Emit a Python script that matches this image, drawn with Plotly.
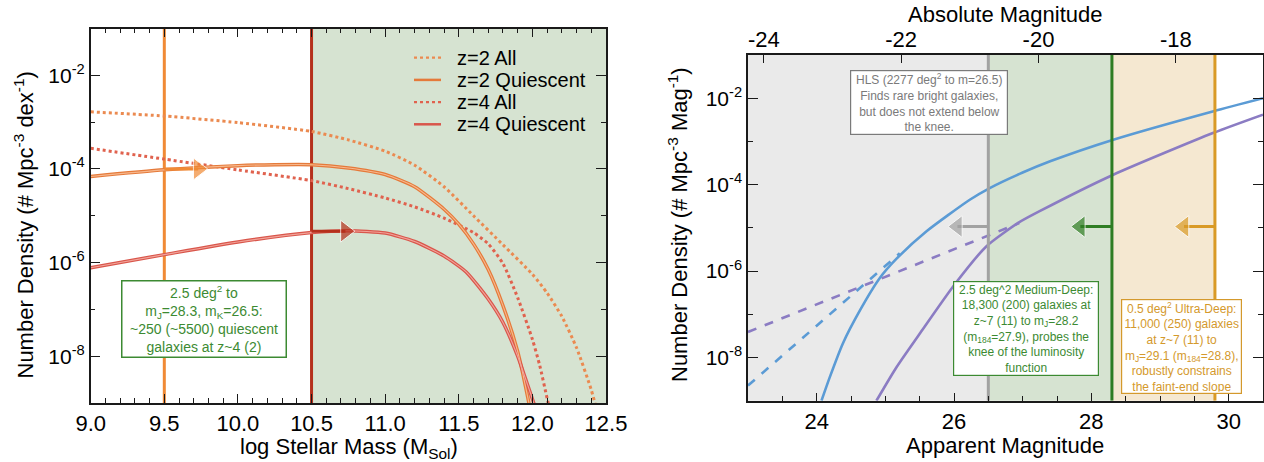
import numpy as np
import plotly.graph_objects as go

FONT = "Liberation Sans, Arial, Helvetica, sans-serif"
W, H = 1264, 462

# ---------------- Left panel data: stellar mass functions (log10 phi) ----------------
mass_z2_all = [9.0, 9.5, 10.0, 10.5, 10.75, 11.0, 11.2, 11.4, 11.6, 11.8, 12.0, 12.1, 12.2, 12.3, 12.4, 12.45]
logphi_z2_all = [-2.78, -2.87, -3.01, -3.20, -3.38, -3.62, -3.92, -4.38, -5.00, -5.62, -6.25, -6.65, -7.15, -7.82, -8.72, -9.3]

mass_z2_q = [9.0, 9.5, 10.0, 10.25, 10.5, 10.75, 11.0, 11.2, 11.4, 11.5, 11.6, 11.7, 11.8, 11.9, 11.97, 12.0]
logphi_z2_q = [-4.16, -4.02, -3.93, -3.91, -3.91, -3.98, -4.12, -4.38, -4.86, -5.18, -5.60, -6.15, -6.92, -7.90, -8.90, -9.4]

mass_z4_all = [9.0, 9.5, 10.0, 10.5, 10.75, 11.0, 11.2, 11.4, 11.6, 11.7, 11.8, 11.9, 12.0, 12.05, 12.1, 12.13]
logphi_z4_all = [-3.56, -3.79, -4.02, -4.25, -4.42, -4.62, -4.81, -5.05, -5.36, -5.60, -6.02, -6.75, -7.64, -8.2, -8.9, -9.3]

mass_z4_q = [9.0, 9.5, 10.0, 10.5, 10.75, 11.0, 11.2, 11.4, 11.55, 11.7, 11.8, 11.9, 11.95, 12.02, 12.05]
logphi_z4_q = [-6.11, -5.83, -5.56, -5.36, -5.32, -5.37, -5.55, -5.86, -6.20, -6.78, -7.28, -8.00, -8.45, -9.10, -9.4]

mass_limits = [9.5, 10.5]            # orange (z=2) and red (z=4) mass limits
mass_arrow_head = [9.73, 10.73]      # arrow head centres
mass_arrow_logphi = [-4.0, -5.33]
mass_range = [9.0, 12.5]
mass_ticks = [9.0, 9.5, 10.0, 10.5, 11.0, 11.5, 12.0, 12.5]

# ---------------- Right panel data: UV luminosity functions (log10 phi) ----------------
mag_blue = [24.07, 24.19, 24.38, 24.63, 24.92, 25.16, 25.6, 26.23, 26.52, 27.0, 27.4, 28.32, 29.78, 30.5]
logphi_blue = [-9.0, -8.46, -7.68, -6.91, -6.16, -5.72, -5.08, -4.35, -4.08, -3.72, -3.46, -2.96, -2.30, -2.0]

mag_purple = [24.87, 25.16, 25.5, 25.99, 26.47, 26.94, 27.24, 28.32, 29.78, 30.5]
logphi_purple = [-9.0, -8.23, -7.45, -6.35, -5.43, -4.88, -4.62, -3.77, -2.80, -2.38]

mag_blue_dash = [23.0, 25.21]
logphi_blue_dash = [-8.65, -5.59]
mag_purple_dash = [23.0, 26.95]
logphi_purple_dash = [-7.41, -4.89]

mag_limits = [26.5, 28.3, 29.8]          # HLS, Medium-Deep, Ultra-Deep
mag_arrow_head = [26.05, 27.84, 29.35]
mag_arrow_logphi = -4.97
mag_range = [23.0, 30.5]
mag_ticks = [24, 26, 28, 30]
abs_mag_ticks = [-24, -22, -20, -18]
distance_modulus = 47.23

logphi_ticks = [-8, -6, -4, -2]
logphi_minor = [-7, -5, -3]
logphi_range = [-9, -1]

# legend (left panel)
legend_labels = ["z=2 All", "z=2 Quiescent", "z=4 All", "z=4 Quiescent"]

# ---------------- colours ----------------
C_Z2_ALL = "#eb8a50"
C_Z4_ALL = "#e0624e"
C_Z2_Q = "#e57a3a"
C_Z2_Q_IN = "#f7b88e"
C_Z4_Q = "#d9564b"
C_Z4_Q_IN = "#f2a49a"
C_LIM1 = "#f08a35"
C_LIM2 = "#b5301c"
C_GREEN_FILL = "#d6e3d1"
C_GRAY_FILL = "#eaeaea"
C_TAN_FILL = "#f5e8d1"
C_BLUE = "#5b9bd5"
C_PURPLE = "#8b7cc3"
C_GRAY = "#a2a2a2"
C_GREEN = "#2f7d23"
C_ORANGE = "#d99a26"
C_GREEN_TXT = "#3c8a32"
C_ORANGE_TXT = "#d4992c"
C_GRAY_TXT = "#7a7a7a"

legend_colors = [C_Z2_ALL, C_Z2_Q, C_Z4_ALL, C_Z4_Q]
legend_dash = ["dot", "solid", "dot", "solid"]


def p(v):
    return [10 ** x for x in v]


fig = go.Figure()

# ---- left panel shading ----
fig.add_shape(type="rect", xref="x", yref="y domain", x0=mass_limits[1], x1=mass_range[1], y0=0, y1=1,
              fillcolor=C_GREEN_FILL, line_width=0, layer="below")

# ---- right panel shading ----
region_edges = [mag_range[0]] + mag_limits
region_cols = [C_GRAY_FILL, C_GREEN_FILL, C_TAN_FILL]
for i in range(3):
    fig.add_shape(type="rect", xref="x2", yref="y2 domain", x0=region_edges[i], x1=region_edges[i + 1],
                  y0=0, y1=1, fillcolor=region_cols[i], line_width=0, layer="below")

# ---- left panel vertical limits ----
for v, c in zip(mass_limits, [C_LIM1, C_LIM2]):
    fig.add_trace(go.Scatter(x=[v, v], y=p(logphi_range), mode="lines", line=dict(color=c, width=3),
                             showlegend=False, hoverinfo="skip", xaxis="x", yaxis="y"))

SPL = dict(shape="spline", smoothing=0.6)
# ---- left panel curves ----
fig.add_trace(go.Scatter(x=mass_z2_all, y=p(logphi_z2_all), mode="lines", name="z=2 All", showlegend=False,
                         line=dict(color=C_Z2_ALL, width=3, dash="dot", **SPL), xaxis="x", yaxis="y"))
fig.add_trace(go.Scatter(x=mass_z4_all, y=p(logphi_z4_all), mode="lines", name="z=4 All", showlegend=False,
                         line=dict(color=C_Z4_ALL, width=3, dash="dot", **SPL), xaxis="x", yaxis="y"))
fig.add_trace(go.Scatter(x=mass_z2_q, y=p(logphi_z2_q), mode="lines", name="z=2 Quiescent", showlegend=False,
                         line=dict(color=C_Z2_Q, width=3.5, **SPL), xaxis="x", yaxis="y"))
fig.add_trace(go.Scatter(x=mass_z4_q, y=p(logphi_z4_q), mode="lines", name="z=4 Quiescent", showlegend=False,
                         line=dict(color=C_Z4_Q, width=3.5, **SPL), xaxis="x", yaxis="y"))
fig.add_trace(go.Scatter(x=mass_z2_q, y=p(logphi_z2_q), mode="lines", showlegend=False, hoverinfo="skip",
                         line=dict(color=C_Z2_Q_IN, width=1.1, **SPL), xaxis="x", yaxis="y"))
fig.add_trace(go.Scatter(x=mass_z4_q, y=p(logphi_z4_q), mode="lines", showlegend=False, hoverinfo="skip",
                         line=dict(color=C_Z4_Q_IN, width=1.1, **SPL), xaxis="x", yaxis="y"))

# ---- left panel arrows ----
for v, h, lp, c in zip(mass_limits, mass_arrow_head, mass_arrow_logphi, [C_LIM1, C_LIM2]):
    fig.add_trace(go.Scatter(x=[v, h], y=[10 ** lp, 10 ** lp], mode="lines+markers",
                             line=dict(color=c, width=3),
                             marker=dict(symbol="triangle-right", size=[0, 19], color=c),
                             showlegend=False, hoverinfo="skip", xaxis="x", yaxis="y"))

# ---- right panel curves ----
fig.add_trace(go.Scatter(x=mag_blue_dash, y=p(logphi_blue_dash), mode="lines",
                         line=dict(color=C_BLUE, width=2.6, dash="dash"), showlegend=False,
                         xaxis="x2", yaxis="y2"))
fig.add_trace(go.Scatter(x=mag_purple_dash, y=p(logphi_purple_dash), mode="lines",
                         line=dict(color=C_PURPLE, width=2.6, dash="dash"), showlegend=False,
                         xaxis="x2", yaxis="y2"))
fig.add_trace(go.Scatter(x=mag_blue, y=p(logphi_blue), mode="lines",
                         line=dict(color=C_BLUE, width=2.6, **SPL), showlegend=False,
                         xaxis="x2", yaxis="y2"))
fig.add_trace(go.Scatter(x=mag_purple, y=p(logphi_purple), mode="lines",
                         line=dict(color=C_PURPLE, width=2.6, **SPL), showlegend=False,
                         xaxis="x2", yaxis="y2"))

# ---- right panel limits and arrows ----
for v, h, c in zip(mag_limits, mag_arrow_head, [C_GRAY, C_GREEN, C_ORANGE]):
    fig.add_trace(go.Scatter(x=[v, v], y=p(logphi_range), mode="lines", line=dict(color=c, width=3),
                             showlegend=False, hoverinfo="skip", xaxis="x2", yaxis="y2"))
    fig.add_trace(go.Scatter(x=[v, h], y=[10 ** mag_arrow_logphi] * 2, mode="lines+markers",
                             line=dict(color=c, width=3),
                             marker=dict(symbol="triangle-left", size=[0, 19], color=c),
                             showlegend=False, hoverinfo="skip", xaxis="x2", yaxis="y2"))

# invisible trace for the top (absolute magnitude) axis
fig.add_trace(go.Scatter(x=[mag_range[0] - distance_modulus, mag_range[1] - distance_modulus],
                         y=[1e-5, 1e-5], mode="markers", marker=dict(opacity=0), showlegend=False,
                         hoverinfo="skip", xaxis="x3", yaxis="y2"))

# ---------------- axes ----------------
LINE = dict(showline=True, linecolor="#1a1a1a", linewidth=1.5, showgrid=False, zeroline=False,
            ticks="inside", tickcolor="#1a1a1a", tickwidth=1.3, automargin=False)
ytick_text = ["10<sup>%d</sup>" % t for t in logphi_ticks]

left_dom_x = [90.7 / W, 606 / W]
left_dom_y = [1 - 403 / H, 1 - 28.5 / H]
right_dom_x = [748 / W, 1263 / W]
right_dom_y = [1 - 400.7 / H, 1 - 55 / H]

mass_minor = [round(x, 1) for x in np.arange(9.1, 12.45, 0.1) if abs(x * 2 - round(x * 2)) > 1e-6]
mag_minor = [x for x in np.arange(23.5, 30.5, 0.5) if x not in mag_ticks]

fig.update_layout(
    width=W, height=H,
    margin=dict(l=0, r=0, t=0, b=0),
    paper_bgcolor="white", plot_bgcolor="rgba(0,0,0,0)",
    font=dict(family=FONT, color="black"),
    showlegend=False,
    xaxis=dict(domain=left_dom_x, anchor="y", range=mass_range, tickvals=mass_ticks,
               ticktext=["%.1f" % t for t in mass_ticks], ticklen=9, mirror="ticks",
               minor=dict(tickvals=mass_minor, ticklen=5, ticks="inside", tickcolor="#1a1a1a"),
               tickfont=dict(size=22), **LINE),
    yaxis=dict(domain=left_dom_y, anchor="x", type="log", range=logphi_range,
               tickvals=[10 ** t for t in logphi_ticks], ticktext=ytick_text, ticklen=10, mirror="ticks",
               minor=dict(tickvals=[10 ** t for t in logphi_minor], ticklen=5, ticks="inside",
                          tickcolor="#1a1a1a"),
               tickfont=dict(size=21), **LINE),
    xaxis2=dict(domain=right_dom_x, anchor="y2", range=mag_range, tickvals=mag_ticks,
                ticktext=[str(t) for t in mag_ticks], ticklen=8, mirror=False,
                minor=dict(tickvals=mag_minor, ticklen=5, ticks="inside", tickcolor="#1a1a1a"),
                tickfont=dict(size=22), **LINE),
    xaxis3=dict(overlaying="x2", anchor="y2", side="top",
                range=[mag_range[0] - distance_modulus, mag_range[1] - distance_modulus],
                tickvals=abs_mag_ticks, ticktext=[str(t) for t in abs_mag_ticks], ticklen=8,
                tickfont=dict(size=22), ticklabelstandoff=-3, **LINE),
    yaxis2=dict(domain=right_dom_y, anchor="x2", type="log", range=logphi_range,
                tickvals=[10 ** t for t in logphi_ticks], ticktext=ytick_text, ticklen=10, mirror="ticks",
                minor=dict(tickvals=[10 ** t for t in logphi_minor], ticklen=5, ticks="inside",
                           tickcolor="#1a1a1a"),
                tickfont=dict(size=21), **LINE),
)

# ---------------- manual legend (left panel) ----------------
ann = []
leg_y0, leg_dy = 57.7, 22.2
for i, (lab, col, dsh) in enumerate(zip(legend_labels, legend_colors, legend_dash)):
    yy = 1 - (leg_y0 + i * leg_dy) / H
    fig.add_shape(type="line", xref="paper", yref="paper", x0=414 / W, x1=441 / W, y0=yy, y1=yy,
                  line=dict(color=col, width=2.2 if dsh == "dot" else 2.5, dash=dsh))
    ann.append(dict(text=lab, xref="paper", yref="paper", x=455 / W, y=yy, xanchor="left", yanchor="middle",
                    showarrow=False, font=dict(size=20, family=FONT, color="black")))

# ---------------- text ----------------
TITLE = dict(size=22, family=FONT, color="black")
C = dict(xanchor="center", yanchor="middle", showarrow=False, xref="paper", yref="paper")
ann.append(dict(text="Number Density (# Mpc<sup>-3</sup> dex<sup>-1</sup>)",
                x=23.5 / W, y=1 - 225 / H, textangle=-90, font=TITLE, **C))
ann.append(dict(text="log Stellar Mass (M<sub>Sol</sub>)",
                x=348.5 / W, y=1 - 448 / H, font=TITLE, **C))
ann.append(dict(text="Number Density (# Mpc<sup>-3</sup> Mag<sup>-1</sup>)",
                x=678 / W, y=1 - 225 / H, textangle=-90, font=TITLE, **C))
ann.append(dict(text="Apparent Magnitude", x=1005 / W, y=1 - 445 / H, font=TITLE, **C))
ann.append(dict(text="Absolute Magnitude", x=1005 / W, y=1 - 15 / H, font=TITLE, **C))

BOX = dict(showarrow=False, xanchor="center", yanchor="middle", bgcolor="white", align="center")
ann.append(dict(text="2.5 deg<sup>2</sup> to<br>m<sub>J</sub>=28.3, m<sub>K</sub>=26.5:<br>"
                     "~250 (~5500) quiescent<br>galaxies at z~4 (2)",
                xref="x", yref="y", x=9.77, y=-7.21, width=160, height=72,
                font=dict(size=14, family=FONT, color=C_GREEN_TXT),
                bordercolor=C_GREEN_TXT, borderwidth=1.5, borderpad=1.5, **BOX))
ann.append(dict(text="HLS (2277 deg<sup>2</sup> to m=26.5)<br>Finds rare bright galaxies,<br>"
                     "but does not extend below<br>the knee.",
                xref="x2", yref="y2", x=25.64, y=-2.09, width=153, height=60,
                font=dict(size=12, family=FONT, color=C_GRAY_TXT),
                bordercolor=C_GRAY_TXT, borderwidth=1.2, borderpad=1.5, **BOX))
ann.append(dict(text="2.5 deg^2 Medium-Deep:<br>18,300 (200) galaxies at<br>z~7 (11) to m<sub>J</sub>=28.2<br>"
                     "(m<sub>184</sub>=27.9), probes the<br>knee of the luminosity<br>function",
                xref="x2", yref="y2", x=27.05, y=-7.33, width=141, height=90,
                font=dict(size=12, family=FONT, color=C_GREEN_TXT),
                bordercolor=C_GREEN_TXT, borderwidth=1.2, borderpad=1.5, **BOX))
ann.append(dict(text="0.5 deg<sup>2</sup> Ultra-Deep:<br>11,000 (250) galaxies<br>at z~7 (11) to<br>"
                     "m<sub>J</sub>=29.1 (m<sub>184</sub>=28.8),<br>robustly constrains<br>the faint-end slope",
                xref="x2", yref="y2", x=29.31, y=-7.74, width=116, height=90,
                font=dict(size=12, family=FONT, color=C_ORANGE_TXT),
                bordercolor=C_ORANGE_TXT, borderwidth=1.2, borderpad=1.5, **BOX))
fig.update_layout(annotations=ann)

fig.write_html("out.html", config={"displayModeBar": False},
               post_script="document.body.style.margin='0px';")
